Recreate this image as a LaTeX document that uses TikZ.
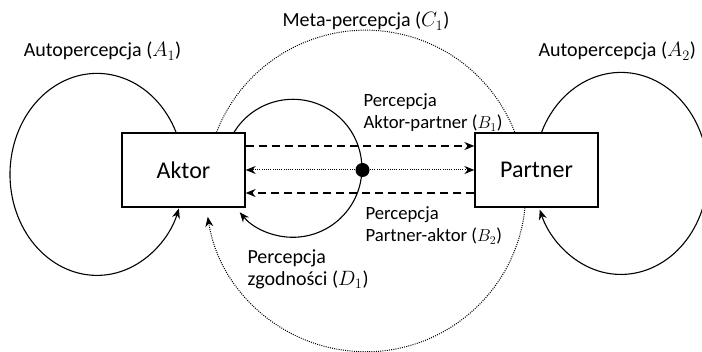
\documentclass[tikz,border=0pt]{standalone}
\usepackage{fontspec}
\setmainfont{Carlito}
\usetikzlibrary{positioning,arrows.meta}

\begin{document}
\begin{tikzpicture}[x=1pt,y=1pt,node distance=353pt,on grid,line width=1.1pt,
   >={Stealth[length=10pt,width=8pt]},
   osoba/.style={draw,line width=1.3pt,minimum width=123pt,minimum height=74pt,
      font=\fontsize{24}{28}\selectfont},
   opis/.style={inner sep=0pt,font=\fontsize{20}{22}\selectfont,align=left},
   opismaly/.style={inner sep=0pt,font=\fontsize{18.7}{22}\selectfont,align=left},
   kreski/.style={dash pattern=on 8pt off 5pt},
   kropki/.style={line width=1pt,dash pattern=on 1pt off 1.2pt}]
   \useasboundingbox (0,0) rectangle (702,-352);
   \node[osoba] (aktor) at (183.5,-170) {Aktor};
   \node[osoba] (partner) [right=of aktor] {Partner};
   \node[circle,fill,inner sep=0pt,minimum size=14pt] (kropka) [right=179pt of aktor] {};
   % opisy
   \node[opis,anchor=base] (autoA) at (102.5,-57) {Autopercepcja ($A_1$)};
   \node[opis,anchor=base] (meta) at (366,-27) {Meta-percepcja ($C_1$)};
   \node[opis,anchor=base west] (autoP) at (538,-57) {Autopercepcja ($A_2$)};
   \node[opismaly,anchor=north west] (percAP) at (363,-93) {Percepcja\\Aktor-partner ($B_1$)};
   \node[opismaly,anchor=north west] (percPA) at (365,-206) {Percepcja\\Partner-aktor ($B_2$)};
   \node[opis,anchor=north west] (zgod) at (247,-249) {Percepcja\\zgodności ($D_1$)};
   % strzalki
   \path[->]
   ([yshift=24pt]aktor.east) edge[kreski] ([yshift=24pt]partner.west)
   ([yshift=-23pt]partner.west) edge[kreski] ([yshift=-23pt]aktor.east)
   (kropka) edge[kropki] (aktor.east |- kropka)
            edge[kropki] (partner.west |- kropka);
   % petle
   \draw[->] ([xshift=-7.4pt]aktor.north) arc[start angle=24.6, end angle=340.3, x radius=87pt, y radius=101pt];
   \draw[->] ([xshift=5pt]partner.north) arc[start angle=156, end angle=-159, x radius=87pt, y radius=101pt];
   \draw[->] ([xshift=50.5pt]aktor.north) arc[start angle=148.6, end angle=-140.4, radius=69pt];
   \draw[kropki] ([xshift=33pt]aktor.north) arc[start angle=158.8, end angle=21.2, radius=160pt];
   \draw[kropki,->] ([xshift=-11.5pt]partner.south) arc[start angle=-5.7, end angle=-171, radius=160pt];
\end{tikzpicture}
\end{document}
